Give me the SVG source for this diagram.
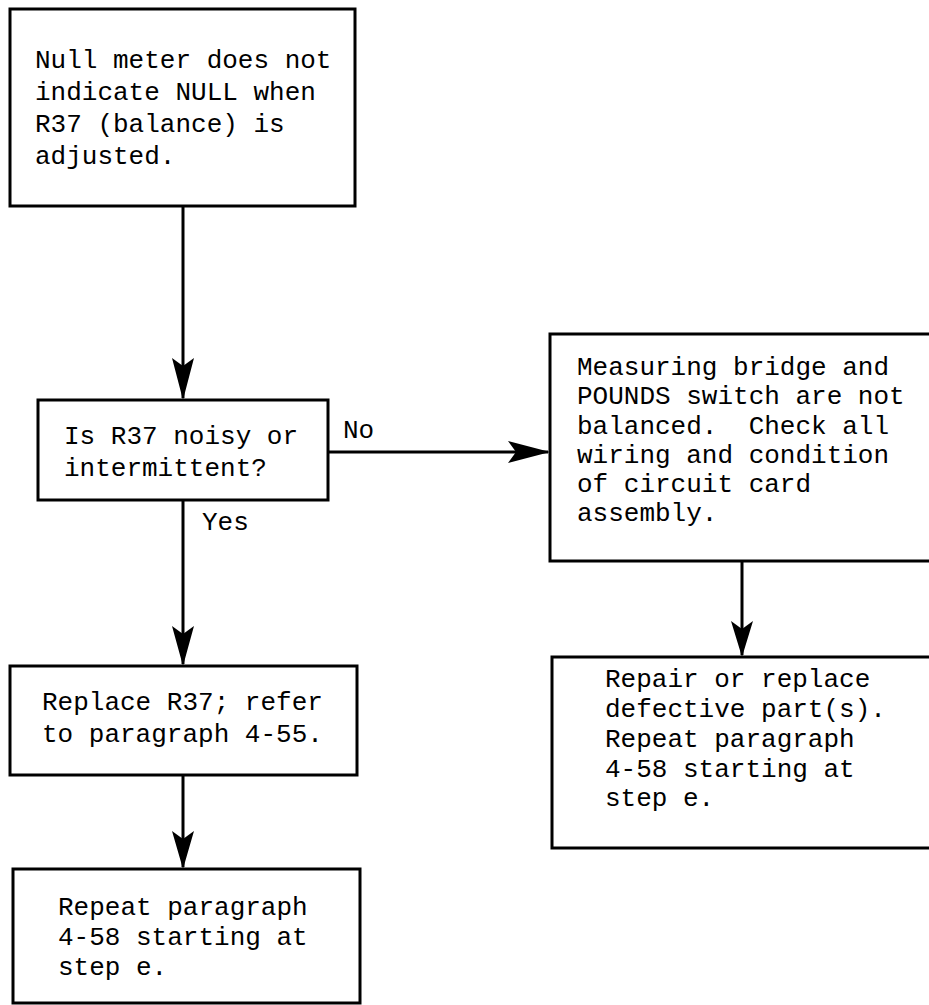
<svg xmlns="http://www.w3.org/2000/svg" width="929" height="1005" viewBox="0 0 929 1005">
<style>
.box{fill:#fff;stroke:#000;stroke-width:3}
.t{font-family:"Liberation Mono","DejaVu Sans Mono",monospace;font-size:26px;fill:#000;white-space:pre}
.ln{stroke:#000;stroke-width:3;fill:none}
.hd{fill:#000;stroke:none}
</style>
<rect width="929" height="1005" fill="#fff"/>
<g id="connectors">
  <line class="ln" x1="183" y1="206" x2="183" y2="398"/>
  <polygon class="hd" points="183,400 172,358 183,366 194,358"/>
  <line class="ln" x1="328" y1="452" x2="548" y2="452"/>
  <polygon class="hd" points="550,452 508,441 516,452 508,463"/>
  <line class="ln" x1="183" y1="500" x2="183" y2="664"/>
  <polygon class="hd" points="183,666 172,626 183,634 194,626"/>
  <line class="ln" x1="742" y1="561" x2="742" y2="655"/>
  <polygon class="hd" points="742,657 731,621 742,629 753,621"/>
  <line class="ln" x1="183" y1="775" x2="183" y2="867"/>
  <polygon class="hd" points="183,869 172,831 183,839 194,831"/>
  <text class="t" x="343" y="438">No</text>
  <text class="t" x="202" y="530">Yes</text>
</g>
<g id="n1">
  <rect class="box" x="10" y="9" width="345" height="197"/>
  <text class="t" x="35" y="68">Null meter does not</text>
  <text class="t" x="35" y="100">indicate NULL when</text>
  <text class="t" x="35" y="132">R37 (balance) is</text>
  <text class="t" x="35" y="164">adjusted.</text>
</g>
<g id="n2">
  <rect class="box" x="38" y="400" width="290" height="100"/>
  <text class="t" x="64" y="444">Is R37 noisy or</text>
  <text class="t" x="64" y="476">intermittent?</text>
</g>
<g id="n3">
  <rect class="box" x="550" y="334" width="400" height="227"/>
  <text class="t" x="577" y="375">Measuring bridge and</text>
  <text class="t" x="577" y="404">POUNDS switch are not</text>
  <text class="t" x="577" y="434" xml:space="preserve">balanced.  Check all</text>
  <text class="t" x="577" y="463">wiring and condition</text>
  <text class="t" x="577" y="492">of circuit card</text>
  <text class="t" x="577" y="521">assembly.</text>
</g>
<g id="n4">
  <rect class="box" x="552" y="657" width="400" height="191"/>
  <text class="t" x="605" y="687">Repair or replace</text>
  <text class="t" x="605" y="717">defective part(s).</text>
  <text class="t" x="605" y="747">Repeat paragraph</text>
  <text class="t" x="605" y="777">4-58 starting at</text>
  <text class="t" x="605" y="806">step e.</text>
</g>
<g id="n5">
  <rect class="box" x="10" y="666" width="347" height="109"/>
  <text class="t" x="42" y="710">Replace R37; refer</text>
  <text class="t" x="42" y="742">to paragraph 4-55.</text>
</g>
<g id="n6">
  <rect class="box" x="13" y="869" width="347" height="134"/>
  <text class="t" x="58" y="915">Repeat paragraph</text>
  <text class="t" x="58" y="945">4-58 starting at</text>
  <text class="t" x="58" y="975">step e.</text>
</g>
</svg>
